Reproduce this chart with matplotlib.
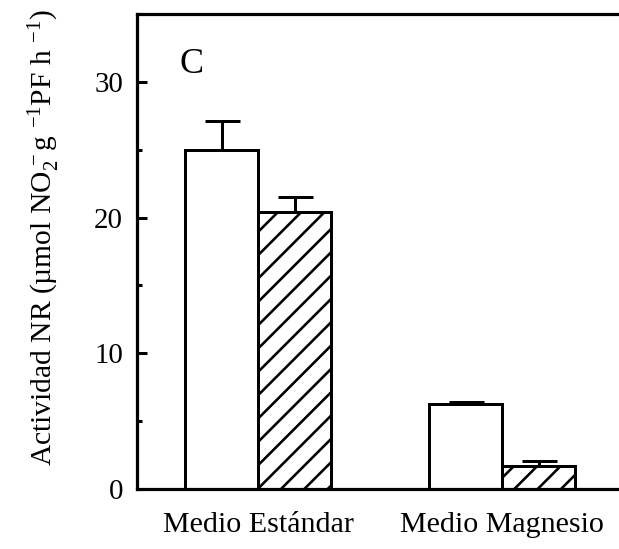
import numpy as np
import matplotlib.pyplot as plt

DPI = 70


def px(v):
    # tamaño en píxeles -> puntos
    return v * 72.0 / DPI


plt.rcParams['font.family'] = ['Liberation Serif', 'DejaVu Serif']
plt.rcParams['mathtext.fontset'] = 'custom'
plt.rcParams['mathtext.rm'] = 'Liberation Serif'
plt.rcParams['mathtext.it'] = 'Liberation Serif:italic'
plt.rcParams['hatch.linewidth'] = px(2.6)

grupos = ['Medio Estándar', 'Medio Magnesio']
control = [25.0, 6.3]       # barras blancas
control_err = [2.1, 0.1]
tratado = [20.4, 1.7]       # barras rayadas
tratado_err = [1.1, 0.35]

centros = np.array([1.66, 5.0])
ancho = 1.0
lw = px(3.0)

fig = plt.figure(figsize=(619 / DPI, 549 / DPI), dpi=DPI)
ax = fig.add_axes([137 / 619, 60 / 549, 482 / 619, 475 / 549])

err_kw = dict(ecolor='black', elinewidth=lw, capsize=px(17.5), capthick=lw)
ax.bar(centros - ancho / 2, control, ancho, yerr=[[0, 0], control_err], color='white',
       edgecolor='black', linewidth=lw, error_kw=err_kw)
ax.bar(centros + ancho / 2, tratado, ancho, yerr=[[0, 0], tratado_err], color='white',
       edgecolor='black', linewidth=lw, hatch='/', error_kw=err_kw)

ax.set_xlim(0, 482 / 73)
ax.set_ylim(0, 35)
ax.set_yticks([0, 10, 20, 30])
ax.set_yticks([5, 15, 25], minor=True)
ax.tick_params(axis='y', which='major', direction='in', length=px(10), width=lw,
               labelsize=px(29), pad=px(14))
ax.tick_params(axis='y', which='minor', direction='in', length=px(5), width=lw)
ax.set_xticks(centros)
ax.set_xticklabels(grupos)
ax.tick_params(axis='x', length=0, labelsize=px(30), pad=px(23))
for s in ['left', 'bottom', 'top']:
    ax.spines[s].set_linewidth(px(3.2))
ax.spines['right'].set_visible(False)

fig.text(44 / 619, 1 - 238 / 549,
         r'Actividad NR (µmol NO$_2^{\,-}$g $^{-1}$PF h $^{-1}$)',
         fontsize=px(29.5), rotation=90, ha='center', va='center')
ax.text(0.75, 31.3, 'C', fontsize=px(36), ha='center', va='center')

fig.savefig('out.png', dpi=DPI)
